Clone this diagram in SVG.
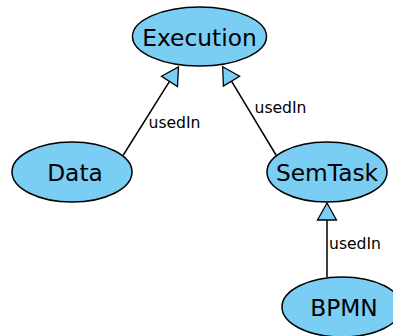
<svg xmlns="http://www.w3.org/2000/svg" width="393" height="336" viewBox="0 0 393 336">
  <style>
    .node ellipse { fill: #7ACEF4; stroke: #000; stroke-width: 1.5; }
    .node text { font-family: "DejaVu Sans", sans-serif; font-size: 23.3px; fill: #000; text-anchor: middle; }
    .edge line { stroke: #000; stroke-width: 1.5; }
    .edge polygon { fill: #7ACEF4; stroke: #000; stroke-width: 1.3; stroke-linejoin: miter; }
    .label { font-family: "DejaVu Sans", sans-serif; font-size: 15.6px; fill: #000; }
  </style>
  <rect width="393" height="336" fill="#fff"/>

  <!-- generalisation connectors (hollow-style triangle heads) -->
  <g id="connectors">
    <g class="edge" id="data-execution">
      <line x1="123.3" y1="155" x2="169.5" y2="81.4"/>
      <polygon points="178.5,67 177.5,86.5 161.5,76.3"/>
      <text class="label" x="148.5" y="128.3">usedIn</text>
    </g>
    <g class="edge" id="semtask-execution">
      <line x1="276" y1="155" x2="231.5" y2="81.2"/>
      <polygon points="222.7,66.7 239.6,76.3 223.4,86.1"/>
      <text class="label" x="254.5" y="113.3">usedIn</text>
    </g>
    <g class="edge" id="bpmn-semtask">
      <line x1="327" y1="277" x2="327" y2="220"/>
      <polygon points="327,203 336.5,220 317.5,220"/>
      <text class="label" x="329" y="249.3">usedIn</text>
    </g>
  </g>

  <g class="node" id="execution">
    <ellipse cx="199.5" cy="36.5" rx="67" ry="29.5"/>
    <text x="199.5" y="45.5">Execution</text>
  </g>
  <g class="node" id="data">
    <ellipse cx="72" cy="172" rx="60" ry="30"/>
    <text x="75" y="181">Data</text>
  </g>
  <g class="node" id="semtask">
    <ellipse cx="327" cy="172" rx="60" ry="30"/>
    <text x="327" y="180.5">SemTask</text>
  </g>
  <g class="node" id="bpmn">
    <ellipse cx="342" cy="307" rx="60" ry="30"/>
    <text x="344" y="315.5">BPMN</text>
  </g>
</svg>
